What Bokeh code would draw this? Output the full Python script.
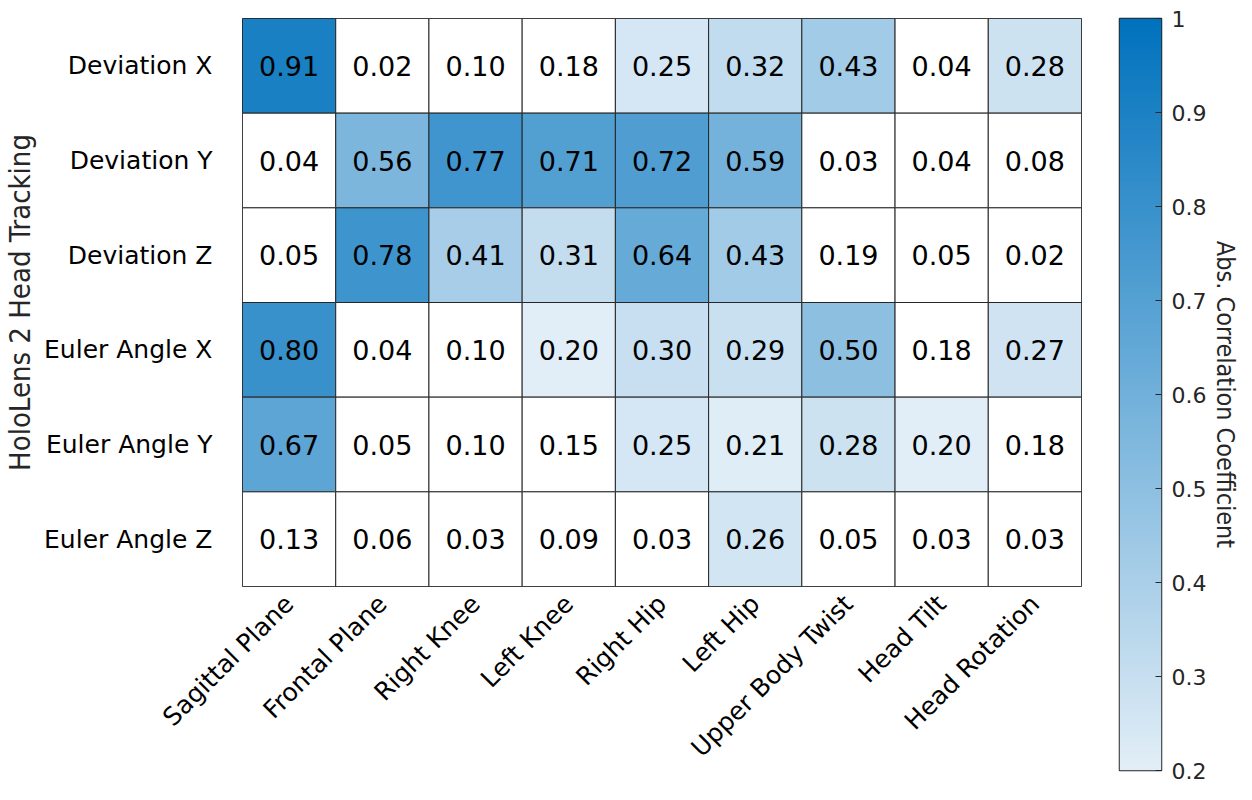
import numpy as np
from math import pi
from bokeh.plotting import figure
from bokeh.models import ColumnDataSource, LinearColorMapper, FixedTicker, Label, Range1d
from bokeh.layouts import row
from bokeh.embed import file_html
from bokeh.resources import INLINE
from bokeh.core.properties import value

# ---------------- data ----------------
cols = ["Sagittal Plane", "Frontal Plane", "Right Knee", "Left Knee", "Right Hip",
        "Left Hip", "Upper Body Twist", "Head Tilt", "Head Rotation"]
rows = ["Deviation X", "Deviation Y", "Deviation Z",
        "Euler Angle X", "Euler Angle Y", "Euler Angle Z"]
deviation_x = [0.91, 0.02, 0.10, 0.18, 0.25, 0.32, 0.43, 0.04, 0.28]
deviation_y = [0.04, 0.56, 0.77, 0.71, 0.72, 0.59, 0.03, 0.04, 0.08]
deviation_z = [0.05, 0.78, 0.41, 0.31, 0.64, 0.43, 0.19, 0.05, 0.02]
euler_x = [0.80, 0.04, 0.10, 0.20, 0.30, 0.29, 0.50, 0.18, 0.27]
euler_y = [0.67, 0.05, 0.10, 0.15, 0.25, 0.21, 0.28, 0.20, 0.18]
euler_z = [0.13, 0.06, 0.03, 0.09, 0.03, 0.26, 0.05, 0.03, 0.03]
cbar_ticks = [0.2, 0.3, 0.4, 0.5, 0.6, 0.7, 0.8, 0.9, 1.0]
cbar_low, cbar_high = 0.2, 1.0

values = [deviation_x, deviation_y, deviation_z, euler_x, euler_y, euler_z]

# ---------------- colour map ----------------
c_lo = np.array([226, 238, 247])
c_hi = np.array([0, 114, 189])
palette = []
for t in np.linspace(0, 1, 256):
    c = (c_lo + (c_hi - c_lo) * t).round().astype(int)
    palette.append("#%02x%02x%02x" % tuple(c))
mapper = LinearColorMapper(palette=palette, low=cbar_low, high=cbar_high, low_color="white")

xs, ys, vs, labels = [], [], [], []
for r, vals in zip(rows, values):
    for c, v in zip(cols, vals):
        xs.append(c)
        ys.append(r)
        vs.append(v)
        labels.append("%.2f" % v)
src = ColumnDataSource(dict(col=xs, row=ys, val=vs, label=labels))

FONT = "DejaVu Sans"
COND = "DejaVu Sans Condensed"
DARK = "#262626"

# ---------------- heatmap ----------------
p = figure(x_range=cols, y_range=list(reversed(rows)),
           frame_width=839, frame_height=568,
           min_border_left=241, min_border_right=35, min_border_top=18, min_border_bottom=198,
           output_backend="svg", toolbar_location=None)
p.rect(x="col", y="row", width=1, height=1, source=src,
       fill_color={"field": "val", "transform": mapper},
       line_color=DARK, line_width=1)
p.text(x="col", y="row", text="label", source=src, text_align="center",
       text_baseline="middle", text_font_size="27px", text_font=value(FONT),
       text_color="black")

p.grid.grid_line_color = None
p.outline_line_color = DARK
p.outline_line_width = 1
for ax in (p.xaxis[0], p.yaxis[0]):
    ax.axis_line_color = None
    ax.major_tick_line_color = None
    ax.minor_tick_line_color = None
    ax.major_label_text_font = FONT
    ax.major_label_text_font_size = "25px"
    ax.major_label_text_color = "black"
p.xaxis.major_label_orientation = pi / 4
p.xaxis.major_label_standoff = 7
p.yaxis.major_label_standoff = 24
p.yaxis.axis_label = "HoloLens 2 Head Tracking"
p.yaxis.axis_label_text_font = COND
p.yaxis.axis_label_text_font_size = "29px"
p.yaxis.axis_label_text_font_style = "normal"
p.yaxis.axis_label_text_color = DARK
p.yaxis.axis_label_standoff = 4

p.add_layout(Label(x=3.99, y=-1.95, x_units="data", y_units="data",
                   text="Body Model Tracking", text_align="center", text_baseline="middle",
                   text_font=FONT, text_font_size="25px", text_color=DARK))

# ---------------- colour bar ----------------
cb = figure(x_range=Range1d(0, 1), y_range=Range1d(cbar_low, cbar_high),
            frame_width=42, frame_height=752,
            min_border_left=3, min_border_top=18, min_border_bottom=14, min_border_right=0,
            y_axis_location="right", output_backend="svg", toolbar_location=None)
grad = np.linspace(cbar_low, cbar_high, 256).reshape(-1, 1)
cb.image(image=[grad], x=0, y=cbar_low, dw=1, dh=cbar_high - cbar_low, color_mapper=mapper)
cb.grid.grid_line_color = None
cb.xaxis.visible = False
cb.outline_line_color = DARK
cb.outline_line_width = 1.5
ya = cb.yaxis[0]
ya.ticker = FixedTicker(ticks=cbar_ticks)
ya.major_label_overrides = {1.0: "1", 1: "1"}
ya.axis_line_color = None
ya.major_tick_in = 6
ya.major_tick_out = 0
ya.major_tick_line_color = DARK
ya.minor_tick_line_color = None
ya.major_label_standoff = 10
ya.major_label_text_font = FONT
ya.major_label_text_font_size = "22px"
ya.major_label_text_color = DARK
ya.axis_label = "Abs. Correlation Coefficient"
ya.axis_label_text_font = COND
ya.axis_label_text_font_size = "25px"
ya.axis_label_text_font_style = "normal"
ya.axis_label_text_color = DARK
ya.axis_label_standoff = 2

layout = row(p, cb)
open("out.html", "w").write(file_html(layout, INLINE))
